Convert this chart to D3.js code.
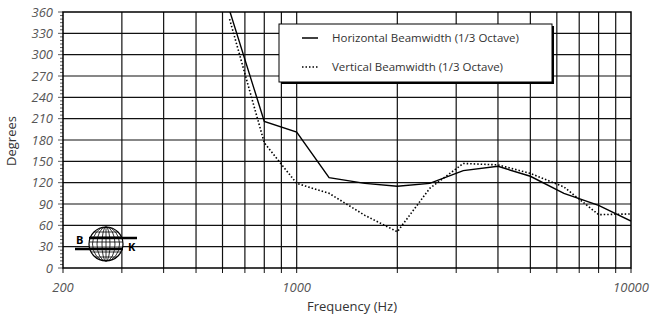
<!DOCTYPE html>
<html>
<head>
<meta charset="utf-8">
<script src="https://cdn.jsdelivr.net/npm/d3@7"></script>
<style>
  body { margin: 0; background: #fff; }
  text { font-family: "Open Sans", sans-serif; }
</style>
</head>
<body>
<div id="chart"></div>
<script>
// 1/3 octave centre frequencies and beamwidths
const freqs = [630, 800, 1000, 1250, 1600, 2000, 2500, 3150, 4000, 5000, 6300, 8000, 10000];
const horizontal = [362, 206, 191, 127, 119, 115, 119, 137, 143, 129, 105, 88, 66];
const vertical = [350, 176, 119, 105, 74, 51, 112, 147, 145, 133, 114, 75, 76];

const yTicks = d3.range(0, 361, 30);
const xLabels = [200, 1000, 10000];
const xGrid = [300, 400, 500, 600, 700, 800, 900, 1000, 2000, 3000, 4000, 5000, 6000, 7000, 8000, 9000];
const series = [
  { name: "Horizontal Beamwidth (1/3 Octave)", values: horizontal, dash: null },
  { name: "Vertical Beamwidth (1/3 Octave)", values: vertical, dash: "1.5 2" }
];

const W = 651, H = 317;
const margin = { top: 12, right: 20, bottom: 49, left: 63 };
const width = W - margin.left - margin.right,
      height = H - margin.top - margin.bottom;

const svg = d3.select("#chart").append("svg")
  .attr("width", W).attr("height", H);

const g = svg.append("g")
  .attr("transform", `translate(${margin.left}, ${margin.top})`);

const x = d3.scaleLog().domain([200, 10000]).range([0, width]);
const y = d3.scaleLinear().domain([0, 360]).range([height, 0]);

// grid
g.append("g").selectAll("line.h")
  .data(yTicks.slice(1, -1))
  .join("line")
  .attr("x1", 0).attr("x2", width)
  .attr("y1", d => y(d)).attr("y2", d => y(d))
  .attr("stroke", "#111").attr("stroke-width", 1.2);

g.append("g").selectAll("line.v")
  .data(xGrid)
  .join("line")
  .attr("x1", d => x(d)).attr("x2", d => x(d))
  .attr("y1", 0).attr("y2", height)
  .attr("stroke", "#111").attr("stroke-width", 1.2);

// bottom ticks
g.append("g").selectAll("line")
  .data([200].concat(xGrid, [10000]))
  .join("line")
  .attr("x1", d => x(d)).attr("x2", d => x(d))
  .attr("y1", height).attr("y2", height + 5)
  .attr("stroke", "#111");

// left ticks, minor every 5 degrees
g.append("g").selectAll("line")
  .data(d3.range(0, 361, 5))
  .join("line")
  .attr("x1", d => d % 30 === 0 ? -5 : -3).attr("x2", 0)
  .attr("y1", d => y(d)).attr("y2", d => y(d))
  .attr("stroke", "#333").attr("stroke-width", 0.8);

// frame
g.append("rect")
  .attr("width", width).attr("height", height)
  .attr("fill", "none").attr("stroke", "#000").attr("stroke-width", 1.5);

// tick labels
g.append("g").selectAll("text")
  .data(yTicks)
  .join("text")
  .attr("x", -10).attr("y", d => y(d) + 4.5)
  .attr("text-anchor", "end")
  .attr("font-size", 13).attr("font-style", "italic")
  .attr("fill", "#555")
  .text(d => d);

g.append("g").selectAll("text")
  .data(xLabels)
  .join("text")
  .attr("x", d => x(d)).attr("y", height + 24)
  .attr("text-anchor", "middle")
  .attr("font-size", 13).attr("font-style", "italic")
  .attr("fill", "#555")
  .text(d => d);

// axis titles
svg.append("text")
  .attr("x", 352).attr("y", 311)
  .attr("text-anchor", "middle")
  .attr("font-size", 13).attr("fill", "#333")
  .text("Frequency (Hz)");

svg.append("text")
  .attr("transform", "translate(16, 141) rotate(-90)")
  .attr("text-anchor", "middle")
  .attr("font-size", 13).attr("fill", "#333")
  .text("Degrees");

// lines
svg.append("clipPath").attr("id", "clip")
  .append("rect").attr("width", width).attr("height", height);

const line = d3.line()
  .x((d, i) => x(freqs[i]))
  .y(d => y(d));

g.append("g").attr("clip-path", "url(#clip)")
  .selectAll("path")
  .data(series)
  .join("path")
  .attr("d", d => line(d.values))
  .attr("fill", "none")
  .attr("stroke", "#000")
  .attr("stroke-width", d => d.dash ? 1.6 : 1.4)
  .attr("stroke-dasharray", d => d.dash);

// legend
const lg = svg.append("g").attr("transform", "translate(279, 24)");
lg.append("rect").attr("x", 2).attr("y", 2).attr("width", 273).attr("height", 58).attr("fill", "#000");
lg.append("rect").attr("width", 273).attr("height", 58).attr("fill", "#fff").attr("stroke", "#000");
series.forEach((s, i) => {
  const yy = 14 + i * 29;
  lg.append("line")
    .attr("x1", 23).attr("x2", 39).attr("y1", yy).attr("y2", yy)
    .attr("stroke", "#000").attr("stroke-width", 1.5)
    .attr("stroke-dasharray", s.dash);
  lg.append("text")
    .attr("x", 53).attr("y", yy + 4)
    .attr("font-size", 11.5).attr("fill", "#333")
    .text(s.name);
});

// B&K logo
const logo = svg.append("g").attr("transform", "translate(106, 244)");
const r = 17;
logo.append("circle").attr("r", r).attr("fill", "#fff").attr("stroke", "#000").attr("stroke-width", 1.2);
[4, 9, 13.5].forEach(rx => {
  logo.append("ellipse").attr("rx", rx).attr("ry", r)
    .attr("fill", "none").attr("stroke", "#000").attr("stroke-width", 0.8);
});
logo.append("line").attr("x1", 0).attr("x2", 0).attr("y1", -r).attr("y2", r).attr("stroke", "#000").attr("stroke-width", 0.8);
[-12, -7, -2, 3, 8, 13].forEach(dy => {
  const hw = Math.sqrt(r * r - dy * dy);
  logo.append("line").attr("x1", -hw).attr("x2", hw).attr("y1", dy).attr("y2", dy)
    .attr("stroke", "#000").attr("stroke-width", 0.8);
});
logo.append("line").attr("x1", -17).attr("x2", 31).attr("y1", -6).attr("y2", -6).attr("stroke", "#000").attr("stroke-width", 2.5);
logo.append("line").attr("x1", -31).attr("x2", 17).attr("y1", 5).attr("y2", 5).attr("stroke", "#000").attr("stroke-width", 2.5);
logo.append("text").attr("x", -30).attr("y", 0).attr("font-size", 11).attr("font-weight", "bold")
  .attr("font-family", "Liberation Sans, sans-serif").text("B");
logo.append("text").attr("x", 22).attr("y", 7).attr("font-size", 11).attr("font-weight", "bold")
  .attr("font-family", "Liberation Sans, sans-serif").text("K");
</script>
</body>
</html>
